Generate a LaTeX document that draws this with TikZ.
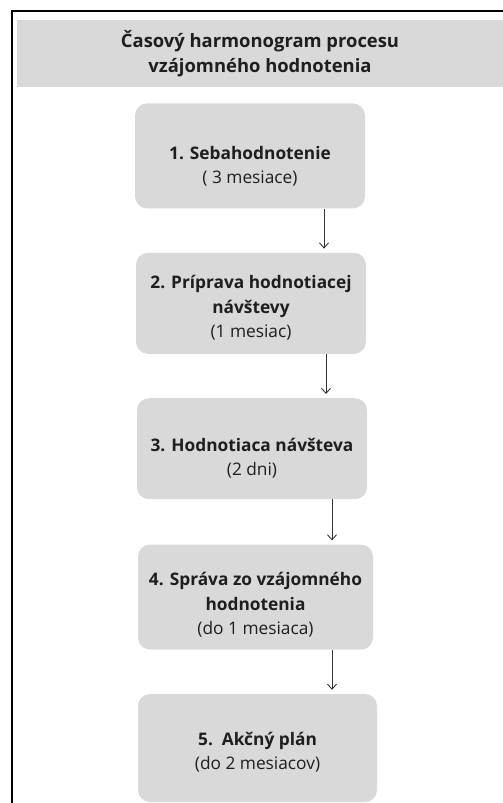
\documentclass[tikz,border=0pt]{standalone}
\usepackage{fontspec}
\setmainfont{Open Sans}
\usepackage{tikz}
\usetikzlibrary{arrows.meta,positioning}
\definecolor{boxgray}{HTML}{D9D9D9}
\definecolor{textdark}{HTML}{1E1E1E}
\newcommand\lift[1]{\rule{0pt}{#1}}

\begin{document}
\begin{tikzpicture}[x=1pt,y=1pt,node distance=44pt,every node/.style={align=center,text=textdark},head/.style={fill=boxgray,inner sep=0pt,minimum width=486pt,minimum height=67pt,font=\fontsize{18.4}{25}\selectfont\bfseries},box/.style={fill=boxgray,rounded corners=12pt,inner sep=0pt,font=\fontsize{17.3}{24.5}\selectfont},arrow/.style={-{Straight Barb[length=5pt,width=9pt]},line width=0.9pt,draw=black!80,shorten >=4pt}]
\useasboundingbox (0,0) rectangle (503,-803);
\draw[line width=2pt] (11.5,-803) -- (11.5,-11) -- (503,-11);
\node[head] (t) at (260,-53.5) {Časový harmonogram procesu\\vzájomného hodnotenia};
\node[box,below=16pt of t,xshift=-10pt,minimum width=230pt,minimum height=105pt] (s) {\lift{33.7pt}\textbf{1. Sebahodnotenie}\\( 3 mesiace)};
\node[box,below=of s,xshift=1pt,minimum width=230pt,minimum height=101pt] (p) {\lift{22.5pt}\textbf{2. Príprava hodnotiacej}\\\textbf{návštevy}\\(1 mesiac)};
\node[box,below=of p,xshift=1pt,minimum width=230pt,minimum height=101pt] (h) {\lift{32pt}\textbf{3. Hodnotiaca návšteva}\\(2 dni)};
\node[box,below=45pt of h,xshift=3.5pt,minimum width=235pt,minimum height=105pt] (r) {\lift{29.5pt}\textbf{4. Správa zo vzájomného}\\\textbf{hodnotenia}\\(do 1 mesiaca)};
\node[box,below=of r,xshift=2pt,minimum width=239pt,minimum height=108pt] (a) {\lift{22pt}\textbf{5.\ \ Akčný plán}\\(do 2 mesiacov)};
\draw[arrow] ([xshift=74pt]s.south) -- ([xshift=74pt]s.south |- p.north);
\draw[arrow] ([xshift=75pt]p.south) -- ([xshift=75pt]p.south |- h.north);
\draw[arrow] ([xshift=80pt]h.south) -- ([xshift=80pt]h.south |- r.north);
\draw[arrow] ([xshift=76.5pt]r.south) -- ([xshift=76.5pt]r.south |- a.north);
\end{tikzpicture}
\end{document}
